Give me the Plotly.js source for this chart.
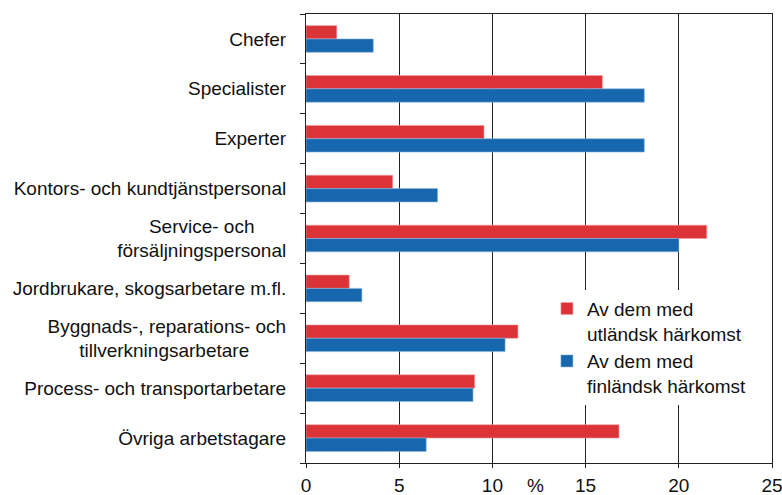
<!DOCTYPE html>
<html><head><meta charset="utf-8">
<script src="https://cdn.plot.ly/plotly-3.0.1.min.js"></script>
<style>html,body{margin:0;padding:0;background:#fff}</style>
</head><body><div id="chart" style="width:782px;height:495px"></div>
<script>
const categories = [
  'Chefer',
  'Specialister',
  'Experter',
  'Kontors- och kundtjänstpersonal',
  'Service- och<br>försäljningspersonal',
  'Jordbrukare, skogsarbetare m.fl.',
  'Byggnads-, reparations- och<br>tillverkningsarbetare',
  'Process- och transportarbetare',
  'Övriga arbetstagare'
];
const utlandsk = [1.65, 15.9, 9.55, 4.65, 21.5, 2.32, 11.37, 9.05, 16.79];
const finlandsk = [3.61, 18.15, 18.15, 7.06, 20.0, 3.0, 10.68, 8.96, 6.45];
const seriesNames = ['Av dem med<br>utländsk härkomst', 'Av dem med<br>finländsk härkomst'];
const xTicks = [0, 5, 10, 15, 20, 25];
const unitLabel = '%';

const FONT = 'Arial, "Liberation Sans", sans-serif';
const FS = 19;

// center multi-line tick labels by padding shorter lines with non-breaking spaces
const ctx = document.createElement('canvas').getContext('2d');
ctx.font = FS + 'px Arial, "Liberation Sans"';
const nbspW = ctx.measureText('\u00a0').width;
function centerLines(label) {
  const lines = label.split('<br>');
  if (lines.length < 2) return label;
  const widths = lines.map(l => ctx.measureText(l).width);
  const maxW = Math.max(...widths);
  return lines.map((l, i) => l + '\u00a0'.repeat(Math.round((maxW - widths[i]) / 2 / nbspW))).join('<br>');
}
const tickText = categories.map(centerLines);

const traces = [
  {type: 'bar', orientation: 'h', name: seriesNames[0], y: categories, x: utlandsk,
   marker: {color: '#DB3337', line: {color: '#F0A0A2', width: 0.6}}},
  {type: 'bar', orientation: 'h', name: seriesNames[1], y: categories, x: finlandsk,
   marker: {color: '#1767AF', line: {color: '#8DB6DE', width: 0.6}}}
];

const layout = {
  width: 782, height: 495,
  margin: {l: 306, r: 10, t: 14, b: 32},
  paper_bgcolor: '#fff', plot_bgcolor: '#fff',
  font: {family: FONT, size: FS, color: '#111'},
  barmode: 'group', bargap: 0.465, bargroupgap: 0,
  xaxis: {
    range: [0, 25], tickvals: xTicks, ticktext: xTicks.map(String),
    showgrid: true, gridcolor: '#222', gridwidth: 1, zeroline: false,
    showline: true, linecolor: '#222', linewidth: 1, mirror: true,
    ticks: 'outside', ticklen: 4, tickcolor: '#222', ticklabelstandoff: 1,
    ticklabeloverflow: 'allow', fixedrange: true
  },
  yaxis: {
    autorange: 'reversed', type: 'category',
    tickvals: categories, ticktext: tickText,
    showgrid: false, zeroline: false,
    showline: true, linecolor: '#222', linewidth: 1, mirror: true,
    ticks: 'outside', tickson: 'boundaries', ticklen: 5, tickcolor: '#222',
    ticklabelstandoff: 15, fixedrange: true
  },
  showlegend: true,
  legend: {
    x: 0.517, xanchor: 'left', y: 0.386, yanchor: 'top',
    bgcolor: '#fff', borderwidth: 0, valign: 'top',
    font: {family: FONT, size: FS, color: '#111'},
    tracegroupgap: 0
  },
  annotations: [{
    text: unitLabel, xref: 'x', x: 12.3, yref: 'paper', y: -0.049,
    yanchor: 'middle', xanchor: 'center', showarrow: false,
    font: {family: FONT, size: FS, color: '#111'}
  }]
};

Plotly.newPlot('chart', traces, layout, {displayModeBar: false, staticPlot: true});
</script></body></html>
